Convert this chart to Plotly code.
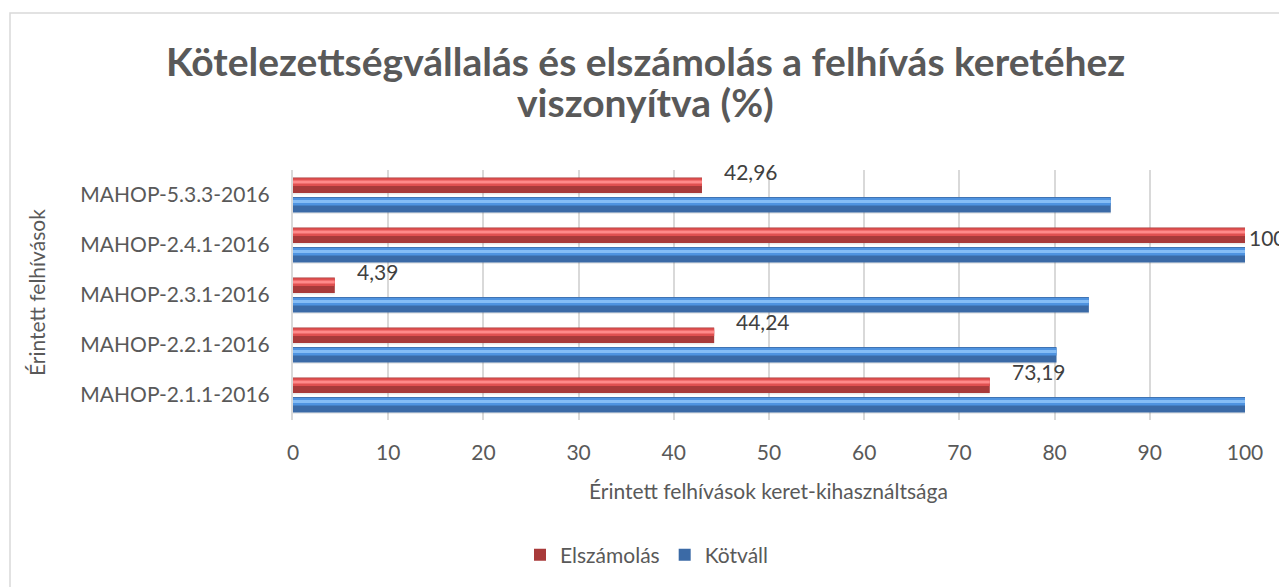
import plotly.graph_objects as go

categories = ["MAHOP-2.1.1-2016", "MAHOP-2.2.1-2016", "MAHOP-2.3.1-2016",
              "MAHOP-2.4.1-2016", "MAHOP-5.3.3-2016"]
elszamolas = [73.19, 44.24, 4.39, 100, 42.96]
kotvall = [100, 80.2, 83.6, 100, 85.9]
elszamolas_labels = ["73,19", "44,24", "4,39", "100", "42,96"]
x_ticks = list(range(0, 101, 10))

FONT = "Lato"
GREY = "#595959"
L, R, T, B = 293, 1245, 170, 420
PW, PH = R - L, B - T

def px(x):
    return (x - L) / PW

def py(y):
    return (B - y) / PH

fig = go.Figure()

def add_series(name, values, offset, width, colors):
    base, mid, hi = colors
    fig.add_trace(go.Bar(y=categories, x=values, orientation="h", offset=offset - 0.03,
                         width=width, marker=dict(color="rgba(0,0,0,0.08)", line=dict(width=0)),
                         showlegend=False, hoverinfo="skip"))
    fig.add_trace(go.Bar(y=categories, x=values, orientation="h", name=name, offset=offset,
                         width=width, marker=dict(color=base, line=dict(width=0)),
                         hoverinfo="x+y"))
    fig.add_trace(go.Bar(y=categories, x=values, orientation="h", offset=offset + width * 0.45,
                         width=width * 0.5, marker=dict(color=mid, line=dict(width=0)),
                         showlegend=False, hoverinfo="skip"))
    fig.add_trace(go.Bar(y=categories, x=values, orientation="h", offset=offset + width * 0.62,
                         width=width * 0.18, marker=dict(color=hi, line=dict(width=0)),
                         showlegend=False, hoverinfo="skip"))

add_series("Kötváll", kotvall, -0.35, 0.31, ("#3b6aa6", "#4f93e0", "#86bdf5"))
add_series("Elszámolás", elszamolas, 0.04, 0.31, ("#a83a3a", "#e05050", "#ff8a8a"))

for cat, v, lab in zip(categories, elszamolas, elszamolas_labels):
    if v >= 100:
        fig.add_annotation(x=v, y=cat, text=lab, showarrow=False, xanchor="left",
                           xshift=2, yshift=8, font=dict(family=FONT, size=21, color="#404040"))
    else:
        fig.add_annotation(x=v, y=cat, text=lab, showarrow=False, xanchor="left",
                           xshift=20, yshift=24, font=dict(family=FONT, size=21, color="#404040"))

fig.add_shape(type="rect", xref="paper", yref="paper",
              x0=px(10), x1=px(1300), y0=py(610), y1=py(13),
              line=dict(color="#d9d9d9", width=1.5), fillcolor="rgba(0,0,0,0)", layer="below")

fig.add_annotation(xref="paper", yref="paper", x=px(645), y=py(61), xanchor="center", yanchor="middle",
                   text="<b>Kötelezettségvállalás és elszámolás a felhívás keretéhez</b>",
                   showarrow=False, font=dict(family=FONT, size=39, color=GREY))
fig.add_annotation(xref="paper", yref="paper", x=px(645), y=py(102), xanchor="center", yanchor="middle",
                   text="<b>viszonyítva (%)</b>",
                   showarrow=False, font=dict(family=FONT, size=39, color=GREY))

fig.add_annotation(xref="paper", yref="paper", x=px(36), y=py(293), xanchor="center", yanchor="middle",
                   text="Érintett felhívások", textangle=-90, showarrow=False,
                   font=dict(family=FONT, size=21, color=GREY))
fig.add_annotation(xref="paper", yref="paper", x=px(768), y=py(490), xanchor="center", yanchor="middle",
                   text="Érintett felhívások keret-kihasználtsága", showarrow=False,
                   font=dict(family=FONT, size=21, color=GREY))

fig.update_layout(
    width=1279, height=587,
    margin=dict(l=L, r=1279 - R, t=T, b=587 - B),
    paper_bgcolor="white", plot_bgcolor="white",
    barmode="overlay",
    xaxis=dict(range=[0, 100], tickvals=x_ticks, showgrid=True, gridcolor="#d9d9d9",
               gridwidth=1.5, zeroline=False, showline=False,
               tickfont=dict(family=FONT, size=21, color=GREY), ticklabelstandoff=18),
    yaxis=dict(categoryorder="array", categoryarray=categories, range=[-0.5, 4.5],
               showline=True, linecolor="#d9d9d9", linewidth=2, showgrid=False,
               tickfont=dict(family=FONT, size=21, color=GREY), ticklabelstandoff=17),
    legend=dict(orientation="h", x=px(647), xanchor="center",
                y=py(555), yanchor="middle", traceorder="reversed",
                font=dict(family=FONT, size=21, color=GREY)),
    showlegend=True,
)

fig.write_html("out.html", config={"displayModeBar": False},
               post_script="document.body.style.margin='0';document.body.style.overflow='hidden';")
